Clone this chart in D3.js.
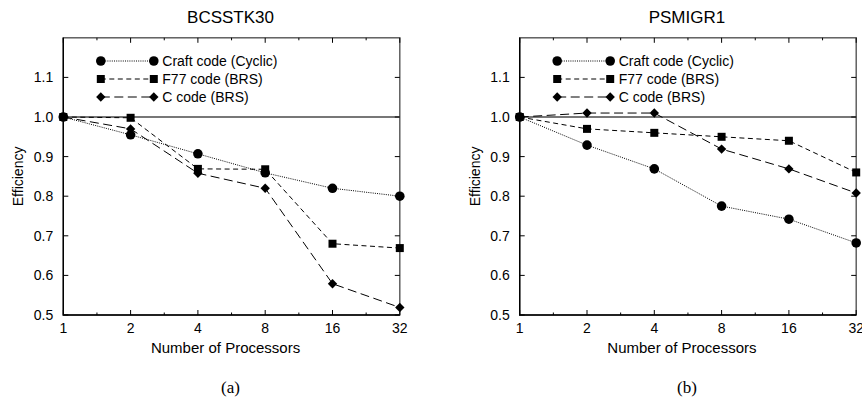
<!DOCTYPE html>
<html>
<head>
<meta charset="utf-8">
<script src="https://cdn.jsdelivr.net/npm/d3@7"></script>
<style>
  body { margin: 0; background: #fff; }
  svg { display: block; font-family: "Liberation Sans", Arial, sans-serif; }
</style>
</head>
<body>
<svg id="chart" width="862" height="400"></svg>
<script>
// processor counts (log2 x axis)
var procs = [1, 2, 4, 8, 16, 32]
var yTicks = [0.5, 0.6, 0.7, 0.8, 0.9, 1.0, 1.1]
var seriesNames = ["Craft code (Cyclic)", "F77 code (BRS)", "C code (BRS)"]

// panel (a) BCSSTK30
var craftA = [1.0, 0.955, 0.907, 0.859, 0.82, 0.80]
var f77A   = [1.0, 0.998, 0.869, 0.868, 0.68, 0.669]
var cA     = [1.0, 0.97, 0.858, 0.82, 0.579, 0.519]

// panel (b) PSMIGR1
var craftB = [1.0, 0.929, 0.869, 0.775, 0.742, 0.682]
var f77B   = [1.0, 0.97, 0.96, 0.95, 0.94, 0.86]
var cB     = [1.0, 1.01, 1.01, 0.919, 0.869, 0.808]

var panels = [
  {title: "BCSSTK30", caption: "(a)", left: 63.3, series: [craftA, f77A, cA]},
  {title: "PSMIGR1", caption: "(b)", left: 519.7, series: [craftB, f77B, cB]}
]

var plotW = 336.5, plotTop = 37.8, plotBottom = 315
var dashes = ["1,1.2", "5,3.5", "9,4.5"]
// circle, square, diamond (square turned 45deg)
var symbols = [d3.symbolCircle, d3.symbolSquare, d3.symbolSquare]
var symSizes = [72, 64, 44]
var symRot = [0, 0, 45]

var svg = d3.select("#chart")

panels.forEach(function(p){
  var x = d3.scaleLog().base(2).domain([1, 32]).range([p.left, p.left + plotW])
  var y = d3.scaleLinear().domain([0.5, 1.2]).range([plotBottom, plotTop])
  var g = svg.append("g")

  // reference line at 1.0
  g.append("line")
    .attr("x1", x(1)).attr("x2", x(32))
    .attr("y1", y(1)).attr("y2", y(1))
    .attr("stroke", "#777").attr("stroke-width", 2)

  // frame
  g.append("rect")
    .attr("x", x(1)).attr("y", plotTop)
    .attr("width", plotW).attr("height", plotBottom - plotTop)
    .attr("fill", "none").attr("stroke", "#555").attr("stroke-width", 1.4)
  g.append("path")
    .attr("d", "M" + x(1) + "," + plotTop + "V" + plotBottom + "H" + x(32))
    .attr("fill", "none").attr("stroke", "#000").attr("stroke-width", 1.4)

  // y ticks (inward on both sides)
  yTicks.forEach(function(t){
    g.append("line").attr("x1", x(1)).attr("x2", x(1) + 5)
      .attr("y1", y(t)).attr("y2", y(t)).attr("stroke", "#000")
    g.append("line").attr("x1", x(32)).attr("x2", x(32) - 5)
      .attr("y1", y(t)).attr("y2", y(t)).attr("stroke", "#000")
    g.append("text")
      .attr("x", x(1) - 10).attr("y", y(t) + 5)
      .attr("text-anchor", "end").attr("font-size", 14)
      .text(d3.format(".1f")(t))
  })

  // x ticks, major and minor
  procs.forEach(function(v, i){
    ;[plotBottom, plotTop].forEach(function(yy, k){
      var dir = k == 0 ? -1 : 1
      g.append("line").attr("x1", x(v)).attr("x2", x(v))
        .attr("y1", yy).attr("y2", yy + dir * 5).attr("stroke", "#000")
      if (i < procs.length - 1) {
        var m = Math.sqrt(v * procs[i + 1])
        g.append("line").attr("x1", x(m)).attr("x2", x(m))
          .attr("y1", yy).attr("y2", yy + dir * 2.5).attr("stroke", "#000")
      }
    })
    g.append("text")
      .attr("x", x(v)).attr("y", 333)
      .attr("text-anchor", "middle").attr("font-size", 14)
      .text(v)
  })

  // titles and labels
  g.append("text").attr("x", p.left + plotW / 2 - 1).attr("y", 22.5)
    .attr("text-anchor", "middle").attr("font-size", 17).text(p.title)
  g.append("text").attr("x", p.left + plotW / 2 - 6).attr("y", 352.5)
    .attr("text-anchor", "middle").attr("font-size", 15).text("Number of Processors")
  g.append("text")
    .attr("transform", "translate(" + (p.left - 40) + "," + ((plotTop + plotBottom) / 2) + ") rotate(-90)")
    .attr("text-anchor", "middle").attr("font-size", 14).text("Efficiency")
  g.append("text").attr("x", p.left + plotW / 2 - 1).attr("y", 393)
    .attr("text-anchor", "middle").attr("font-size", 17)
    .attr("font-family", "'Liberation Serif', 'DejaVu Serif', serif")
    .text(p.caption)

  // series
  p.series.forEach(function(vals, s){
    var pts = procs.map(function(v, i){ return [x(v), y(vals[i])] })
    g.append("path")
      .attr("d", d3.line()(pts))
      .attr("fill", "none").attr("stroke", "#000").attr("stroke-width", 1)
      .attr("stroke-dasharray", dashes[s])
    g.selectAll(null).data(pts).enter().append("path")
      .attr("transform", function(d){ return "translate(" + d[0] + "," + d[1] + ") rotate(" + symRot[s] + ")" })
      .attr("d", d3.symbol().type(symbols[s]).size(symSizes[s]))
      .attr("fill", "#000")

    // legend row
    var ly = 61 + s * 18
    var lx0 = p.left + 37.5, lx1 = p.left + 90.5
    g.append("line").attr("x1", lx0).attr("x2", lx1).attr("y1", ly).attr("y2", ly)
      .attr("stroke", "#000").attr("stroke-width", 1).attr("stroke-dasharray", dashes[s])
    ;[lx0, lx1].forEach(function(lx){
      g.append("path")
        .attr("transform", "translate(" + lx + "," + ly + ") rotate(" + symRot[s] + ")")
        .attr("d", d3.symbol().type(symbols[s]).size(symSizes[s]))
        .attr("fill", "#000")
    })
    g.append("text").attr("x", p.left + 99).attr("y", ly + 5)
      .attr("font-size", 14).text(seriesNames[s])
  })
})
</script>
</body>
</html>
